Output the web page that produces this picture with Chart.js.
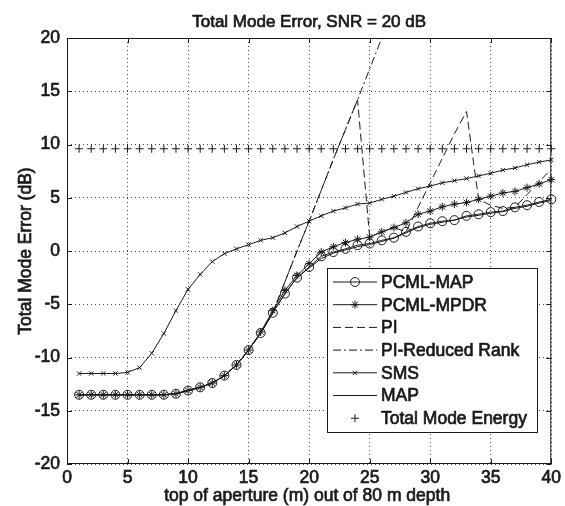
<!DOCTYPE html>
<html>
<head>
<meta charset="utf-8">
<script src="https://cdn.jsdelivr.net/npm/chart.js@4.4.0/dist/chart.umd.min.js"></script>
<style>
  html, body { margin: 0; padding: 0; background: #fff; }
  canvas { display: block; }
</style>
</head>
<body>
<canvas id="modeChart" width="565" height="506"></canvas>
<script>
// top of aperture (m)
const aperture = [1, 2, 3, 4, 5, 6, 7, 8, 9, 10, 11, 12, 13, 14, 15, 16, 17, 18, 19, 20,
                  21, 22, 23, 24, 25, 26, 27, 28, 29, 30, 31, 32, 33, 34, 35, 36, 37, 38, 39, 40];

const pcmlMap = [-13.5, -13.5, -13.5, -13.5, -13.5, -13.5, -13.5, -13.5, -13.4, -13.1,
                 -12.8, -12.4, -11.7, -10.7, -9.3, -7.7, -5.8, -4.0, -2.5, -1.5,
                 -0.5, -0.1, 0.2, 0.55, 0.7, 1.0, 1.25, 1.8, 2.3, 2.6,
                 2.8, 2.9, 3.3, 3.45, 3.65, 3.75, 4.1, 4.3, 4.6, 4.85];

const pcmlMpdr = [-13.5, -13.5, -13.5, -13.5, -13.5, -13.5, -13.5, -13.5, -13.4, -13.1,
                  -12.8, -12.4, -11.7, -10.7, -9.3, -7.6, -5.6, -3.7, -2.3, -1.2,
                  -0.1, 0.4, 0.8, 1.1, 1.3, 1.8, 2.2, 2.65, 3.45, 3.75,
                  4.15, 4.4, 4.55, 4.85, 5.15, 5.45, 5.6, 5.95, 6.3, 6.7];

const piErr = [-13.5, -13.5, -13.5, -13.5, -13.5, -13.5, -13.5, -13.5, -13.4, -13.1,
               -12.8, -12.4, -11.7, -10.7, -9.3, -7.7, -5.8, -2.9, 0.0, 2.8,
               5.7, 8.6, 11.4, 14.2, 1.3, 1.8, 2.2, 1.8, 4.1, 6.4,
               8.7, 11.0, 13.1, 4.85, 4.3, 4.0, 4.1, 5.3, 6.5, 7.7];

const piReduced = [-13.5, -13.5, -13.5, -13.5, -13.5, -13.5, -13.5, -13.5, -13.4, -13.1,
                   -12.8, -12.4, -11.7, -10.7, -9.3, -7.7, -5.8, -2.9, 0.0, 2.8,
                   5.7, 8.6, 11.4, 14.2, 17.1, 20.0, 22.9];

const sms = [-11.5, -11.5, -11.5, -11.5, -11.4, -10.95, -9.6, -7.75, -5.6, -3.6,
             -2.2, -1.0, -0.25, 0.2, 0.6, 1.0, 1.25, 1.7, 2.3, 2.8,
             3.3, 3.75, 4.05, 4.4, 4.5, 4.85, 5.15, 5.5, 5.85, 6.1,
             6.4, 6.6, 6.8, 7.05, 7.3, 7.6, 7.8, 8.1, 8.35, 8.55];

const mapErr = [-13.5, -13.5, -13.5, -13.5, -13.5, -13.5, -13.5, -13.5, -13.4, -13.1,
                -12.8, -12.4, -11.7, -10.7, -9.3, -7.7, -5.8, -4.0, -2.5, -1.6,
                -0.7, -0.2, 0.1, 0.4, 0.6, 0.9, 1.2, 1.7, 2.2, 2.5,
                2.7, 2.9, 3.2, 3.35, 3.55, 3.7, 4.0, 4.2, 4.5, 4.75];

const totalEnergy = [9.6, 9.6, 9.6, 9.6, 9.6, 9.6, 9.6, 9.6, 9.6, 9.6,
                     9.6, 9.6, 9.6, 9.6, 9.6, 9.6, 9.6, 9.6, 9.6, 9.6,
                     9.6, 9.6, 9.6, 9.6, 9.6, 9.6, 9.6, 9.6, 9.6, 9.6,
                     9.6, 9.6, 9.6, 9.6, 9.6, 9.6, 9.6, 9.6, 9.6, 9.6];

const xTicks = [0, 5, 10, 15, 20, 25, 30, 35, 40];
const yTicks = [-20, -15, -10, -5, 0, 5, 10, 15, 20];

const FONT = "'Liberation Sans', Arial, sans-serif";
const INK = '#1a1a1a';
const HEAVY = 0.7;   // fake a heavier print weight

function pts(values) {
    return values.map((v, i) => ({x: aperture[i], y: v}));
}

function series(label, values, dash, marker, radius, showLine) {
    return {
        label: label,
        data: pts(values),
        borderColor: INK,
        borderWidth: 1,
        borderDash: dash,
        pointStyle: marker || 'circle',
        pointRadius: marker ? radius : 0,
        pointBorderColor: INK,
        pointBackgroundColor: 'rgba(0,0,0,0)',
        pointBorderWidth: 1,
        showLine: showLine,
        fill: false,
        tension: 0,
        clip: {left: 8, right: 8, top: 0, bottom: 8}
    };
}

// marker drawing for the legend
function marker(ctx, style, x, y, r) {
    ctx.beginPath();
    if (style === 'circle') {
        ctx.arc(x, y, r, 0, Math.PI * 2);
    } else {
        if (style === 'cross' || style === 'star') {
            ctx.moveTo(x - r, y); ctx.lineTo(x + r, y);
            ctx.moveTo(x, y - r); ctx.lineTo(x, y + r);
        }
        if (style === 'crossRot' || style === 'star') {
            const d = r * 0.7071;
            ctx.moveTo(x - d, y - d); ctx.lineTo(x + d, y + d);
            ctx.moveTo(x - d, y + d); ctx.lineTo(x + d, y - d);
        }
    }
    ctx.stroke();
}

function heavyText(ctx, txt, x, y) {
    ctx.lineWidth = HEAVY;
    ctx.strokeStyle = INK;
    ctx.fillText(txt, x, y);
    ctx.strokeText(txt, x, y);
}

const frame = {
    id: 'frame',
    afterDatasetsDraw(chart) {
        const {ctx, chartArea: a, scales: {x, y}} = chart;
        ctx.save();
        ctx.strokeStyle = INK;
        ctx.lineWidth = 1;
        ctx.setLineDash([]);
        ctx.strokeRect(a.left + 0.5, a.top + 0.5, a.right - a.left - 1, a.bottom - a.top - 1);

        ctx.beginPath();
        xTicks.forEach(v => {
            const px = Math.round(x.getPixelForValue(v)) + 0.5;
            ctx.moveTo(px, a.bottom); ctx.lineTo(px, a.bottom - 5);
            ctx.moveTo(px, a.top); ctx.lineTo(px, a.top + 5);
        });
        yTicks.forEach(v => {
            const py = Math.round(y.getPixelForValue(v)) + 0.5;
            ctx.moveTo(a.left, py); ctx.lineTo(a.left + 5, py);
            ctx.moveTo(a.right, py); ctx.lineTo(a.right - 5, py);
        });
        ctx.stroke();

        // legend box
        const bx = 327, by = 268, bw = 210, bh = 164;
        ctx.fillStyle = '#fff';
        ctx.fillRect(bx, by, bw, bh);
        ctx.strokeRect(bx + 0.5, by + 0.5, bw, bh);
        ctx.font = '17.5px ' + FONT;
        ctx.textBaseline = 'middle';
        ctx.textAlign = 'left';
        chart.data.datasets.forEach((ds, i) => {
            const ly = by + 14 + i * 22.7;
            ctx.strokeStyle = INK;
            ctx.lineWidth = 1;
            if (ds.showLine) {
                ctx.setLineDash(ds.borderDash || []);
                ctx.beginPath();
                ctx.moveTo(bx + 6, ly); ctx.lineTo(bx + 50, ly);
                ctx.stroke();
            }
            ctx.setLineDash([]);
            if (ds.pointRadius > 0) marker(ctx, ds.pointStyle, bx + 28, ly, ds.pointRadius);
            ctx.fillStyle = INK;
            heavyText(ctx, ds.label, bx + 54, ly + 1);
        });
        ctx.restore();
    },
    afterDraw(chart) {
        const {ctx, chartArea: a} = chart;
        ctx.save();
        ctx.fillStyle = INK;
        ctx.textAlign = 'center';
        ctx.textBaseline = 'alphabetic';
        const cx = (a.left + a.right) / 2;
        ctx.font = '17px ' + FONT;
        heavyText(ctx, 'Total Mode Error, SNR = 20 dB', cx, 27);
        ctx.font = '17.5px ' + FONT;
        heavyText(ctx, 'top of aperture (m) out of 80 m depth', cx - 2, 501);
        ctx.translate(31, (a.top + a.bottom) / 2);
        ctx.rotate(-Math.PI / 2);
        heavyText(ctx, 'Total Mode Error (dB)', 0, 0);
        ctx.restore();
    }
};

const tickFont = {family: FONT, size: 17.5};

new Chart(document.getElementById('modeChart').getContext('2d'), {
    type: 'line',
    data: {
        datasets: [
            series('PCML-MAP', pcmlMap, [], 'circle', 4.5, true),
            series('PCML-MPDR', pcmlMpdr, [], 'star', 4, true),
            series('PI', piErr, [8, 4], null, 0, true),
            series('PI-Reduced Rank', piReduced, [8, 3, 2, 3], null, 0, true),
            series('SMS', sms, [], 'crossRot', 3, true),
            series('MAP', mapErr, [], null, 0, true),
            series('Total Mode Energy', totalEnergy, [], 'cross', 4, false)
        ]
    },
    options: {
        responsive: false,
        animation: false,
        events: [],
        layout: {padding: {top: 38, right: 13, left: 0, bottom: 0}},
        scales: {
            x: {
                type: 'linear',
                min: 0,
                max: 40,
                afterBuildTicks: s => { s.ticks = xTicks.map(v => ({value: v})); },
                afterFit: s => { s.height = 42; },
                grid: {color: '#444', lineWidth: 1, drawTicks: false},
                border: {display: false, dash: [1, 3]},
                ticks: {color: INK, padding: 4, maxRotation: 0, font: tickFont,
                        textStrokeColor: INK, textStrokeWidth: HEAVY}
            },
            y: {
                min: -20,
                max: 20,
                afterBuildTicks: s => { s.ticks = yTicks.map(v => ({value: v})); },
                afterFit: s => { s.width = 67; },
                grid: {color: '#444', lineWidth: 1, drawTicks: false},
                border: {display: false, dash: [1, 3]},
                ticks: {color: INK, padding: 7, font: tickFont,
                        textStrokeColor: INK, textStrokeWidth: HEAVY}
            }
        },
        plugins: {
            legend: {display: false},
            title: {display: false},
            tooltip: {enabled: false}
        }
    },
    plugins: [frame]
});
</script>
</body>
</html>
